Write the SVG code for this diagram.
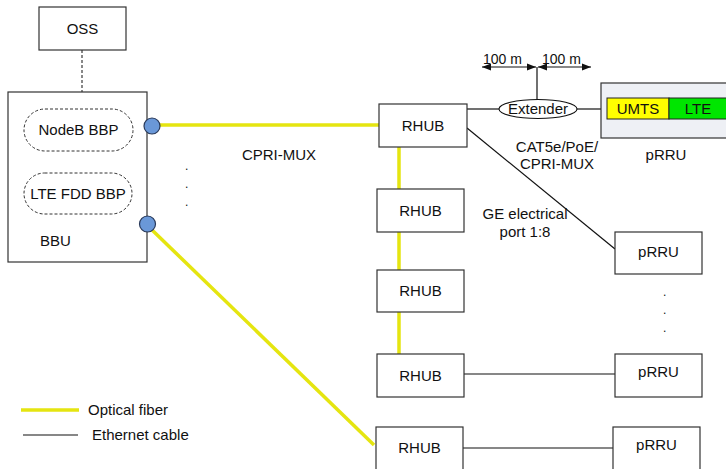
<svg xmlns="http://www.w3.org/2000/svg" width="726" height="469" viewBox="0 0 726 469">
<defs>
<style>
text{font-family:"Liberation Sans",Arial,sans-serif;font-size:15px;fill:#111;}
.box{fill:#fff;stroke:#333;stroke-width:1.2;}
.bbp{fill:#fff;stroke:#333;stroke-width:1;stroke-dasharray:3,2;}
.fiber{stroke:#e5e510;stroke-width:3.5;fill:none;}
.eth{stroke:#111;stroke-width:1.2;fill:none;}
.port{fill:#6a98d8;stroke:#2a3a5a;stroke-width:1.2;}
.c{text-anchor:middle;}
</style>
<marker id="ah" viewBox="0 0 10 10" refX="10" refY="5" markerWidth="9" markerHeight="9" orient="auto-start-reverse" markerUnits="userSpaceOnUse">
<path d="M0,1 L10,5 L0,9 z" fill="#111"/>
</marker>
</defs>
<rect width="726" height="469" fill="#fff"/>

<g id="connectors">
<line x1="82" y1="50" x2="82" y2="92" stroke="#111" stroke-width="1" stroke-dasharray="3,2"/>
<line class="fiber" x1="158" y1="125" x2="379" y2="125"/>
<line class="fiber" x1="150" y1="228" x2="374" y2="445"/>
<line class="fiber" x1="399" y1="147" x2="399" y2="189"/>
<line class="fiber" x1="399" y1="232" x2="399" y2="270"/>
<line class="fiber" x1="399" y1="312" x2="399" y2="354"/>
<line class="eth" x1="467" y1="109" x2="499" y2="109"/>
<line class="eth" x1="577" y1="109" x2="601" y2="109"/>
<line class="eth" x1="467" y1="128" x2="615" y2="249"/>
<line class="eth" x1="464" y1="374" x2="615" y2="374"/>
<line class="eth" x1="463" y1="448" x2="613" y2="448"/>
<line class="eth" x1="537" y1="100" x2="537" y2="67"/>
<line class="eth" x1="482" y1="67" x2="536" y2="67" marker-start="url(#ah)" marker-end="url(#ah)"/>
<line class="eth" x1="538" y1="67" x2="591" y2="67" marker-start="url(#ah)" marker-end="url(#ah)"/>
</g>

<g id="oss">
<rect class="box" x="39" y="7" width="87" height="43"/>
<text class="c" x="82.5" y="34">OSS</text>
</g>

<g id="bbu">
<rect class="box" x="8" y="92" width="139" height="170"/>
<rect class="bbp" x="24" y="109" width="109" height="42" rx="21"/>
<text class="c" x="78.5" y="135">NodeB BBP</text>
<rect class="bbp" x="24" y="173" width="108" height="41" rx="20.5"/>
<text class="c" x="78" y="199">LTE FDD BBP</text>
<text x="40" y="246">BBU</text>
<circle class="port" cx="152" cy="126" r="8"/>
<circle class="port" cx="147.5" cy="224" r="8"/>
</g>

<g id="rhub1">
<rect class="box" x="379" y="104" width="88" height="43"/>
<text class="c" x="423" y="131">RHUB</text>
</g>
<g id="rhub2">
<rect class="box" x="377" y="189" width="87" height="43"/>
<text class="c" x="420.5" y="216">RHUB</text>
</g>
<g id="rhub3">
<rect class="box" x="377" y="270" width="87" height="42"/>
<text class="c" x="420.5" y="296">RHUB</text>
</g>
<g id="rhub4">
<rect class="box" x="377" y="354" width="87" height="43"/>
<text class="c" x="420.5" y="381">RHUB</text>
</g>
<g id="rhub5">
<rect class="box" x="376" y="427" width="87" height="50"/>
<text class="c" x="419.5" y="453">RHUB</text>
</g>

<g id="extender">
<ellipse cx="538" cy="109" rx="39" ry="9.5" fill="#fff" stroke="#111" stroke-width="1.1"/>
<text class="c" x="538" y="114">Extender</text>
</g>

<g id="prru-main">
<rect x="601" y="83" width="130" height="55" fill="#eef0f5" stroke="#333" stroke-width="1.2"/>
<rect x="607" y="98" width="62" height="21" fill="#ffff00" stroke="#222" stroke-width="1"/>
<rect x="669" y="98" width="62" height="21" fill="#00e600" stroke="#222" stroke-width="1"/>
<text class="c" x="638" y="114">UMTS</text>
<text class="c" x="698" y="114">LTE</text>
<text class="c" x="666" y="160">pRRU</text>
</g>

<g id="prru2">
<rect class="box" x="615" y="232" width="87" height="42"/>
<text class="c" x="658.5" y="257">pRRU</text>
</g>
<g id="prru4">
<rect class="box" x="615" y="354" width="87" height="43"/>
<text class="c" x="658.5" y="377">pRRU</text>
</g>
<g id="prru5">
<rect class="box" x="613" y="427" width="87" height="50"/>
<text class="c" x="656.5" y="450">pRRU</text>
</g>

<g id="labels">
<text x="483" y="64" style="font-size:14px">100 m</text>
<text x="542" y="64" style="font-size:14px">100 m</text>
<text class="c" x="557" y="152">CAT5e/PoE/</text>
<text class="c" x="557" y="169">CPRI-MUX</text>
<text class="c" x="279" y="160">CPRI-MUX</text>
<text class="c" x="525" y="219">GE electrical</text>
<text class="c" x="525" y="237">port 1:8</text>
<text x="185" y="170" style="font-size:12px">.</text>
<text x="185" y="188" style="font-size:12px">.</text>
<text x="185" y="206" style="font-size:12px">.</text>
<text x="663" y="296" style="font-size:12px">.</text>
<text x="663" y="314" style="font-size:12px">.</text>
<text x="663" y="332" style="font-size:12px">.</text>
</g>

<g id="legend">
<line class="fiber" x1="21" y1="410" x2="79" y2="410"/>
<text x="88" y="415">Optical fiber</text>
<line class="eth" x1="23" y1="435" x2="78" y2="435"/>
<text x="92" y="440">Ethernet cable</text>
</g>
</svg>
